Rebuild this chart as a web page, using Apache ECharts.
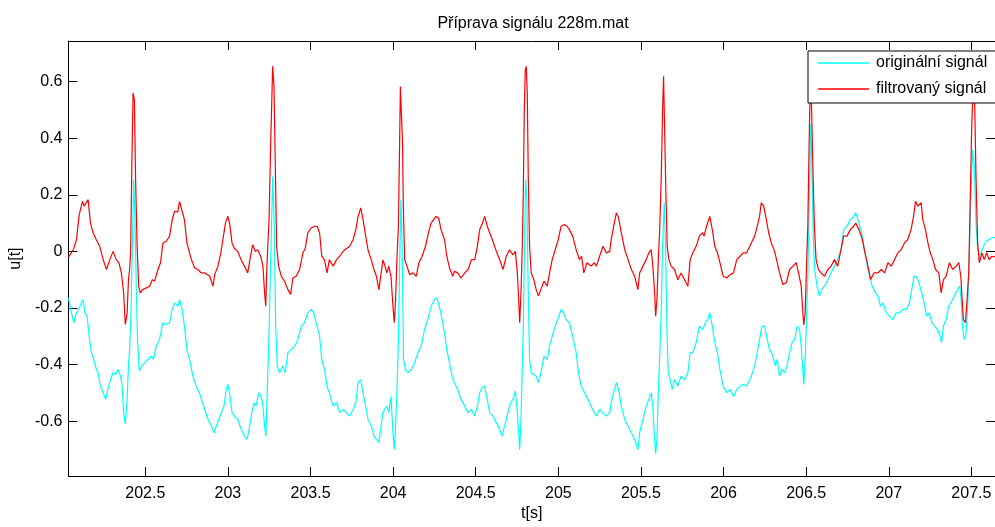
<!DOCTYPE html>
<html>
<head>
<meta charset="utf-8">
<script src="https://cdn.jsdelivr.net/npm/echarts@6/dist/echarts.min.js"></script>
<style>
  html, body { margin: 0; padding: 0; background: #fff; }
  #chart { width: 995px; height: 527px; }
</style>
</head>
<body>
<div id="chart"></div>
<script>
// ECG excerpt, record 228m: time [s] and amplitude u[t]
const chartTitle = 'Příprava signálu 228m.mat';
const seriesNames = ['originální signál', 'filtrovaný signál'];
const xRange = [202.035, 207.643];
const yRange = [-0.7942, 0.7437];
const xTicks = [202.5, 203, 203.5, 204, 204.5, 205, 205.5, 206, 206.5, 207, 207.5];
const yTicks = [-0.6, -0.4, -0.2, 0, 0.2, 0.4, 0.6];

// raw (unfiltered) signal, [t, u]
const original = [
  [202.035,-0.165],[202.039,-0.17],[202.053,-0.217],[202.067,-0.252],[202.083,-0.217],[202.1,-0.2],[202.114,-0.182],[202.124,-0.17],
  [202.134,-0.217],[202.148,-0.229],[202.16,-0.3],[202.174,-0.358],[202.188,-0.382],[202.204,-0.417],[202.214,-0.429],[202.228,-0.476],
  [202.245,-0.5],[202.26,-0.523],[202.274,-0.488],[202.289,-0.453],[202.305,-0.429],[202.32,-0.435],[202.335,-0.417],[202.35,-0.44],
  [202.36,-0.476],[202.369,-0.57],[202.379,-0.61],[202.39,-0.523],[202.398,-0.405],[202.405,-0.347],[202.414,-0.205],[202.422,0.03],
  [202.43,0.254],[202.438,0.112],[202.446,-0.147],[202.454,-0.323],[202.464,-0.423],[202.476,-0.405],[202.496,-0.394],[202.516,-0.382],
  [202.536,-0.37],[202.55,-0.382],[202.566,-0.335],[202.586,-0.311],[202.607,-0.252],[202.627,-0.258],[202.647,-0.252],[202.663,-0.205],
  [202.677,-0.182],[202.697,-0.194],[202.707,-0.17],[202.723,-0.205],[202.737,-0.264],[202.752,-0.347],[202.768,-0.382],[202.788,-0.441],
  [202.808,-0.476],[202.828,-0.5],[202.84,-0.523],[202.86,-0.559],[202.88,-0.594],[202.9,-0.617],[202.917,-0.641],[202.93,-0.617],
  [202.945,-0.594],[202.96,-0.57],[202.976,-0.547],[202.99,-0.488],[203,-0.47],[203.01,-0.5],[203.025,-0.57],[203.04,-0.582],
  [203.06,-0.594],[203.08,-0.629],[203.1,-0.653],[203.117,-0.664],[203.132,-0.617],[203.145,-0.57],[203.157,-0.535],[203.171,-0.547],
  [203.186,-0.5],[203.2,-0.512],[203.21,-0.535],[203.222,-0.617],[203.23,-0.653],[203.238,-0.5],[203.249,-0.288],[203.259,-0.029],
  [203.271,0.265],[203.281,0.089],[203.289,-0.264],[203.299,-0.405],[203.313,-0.429],[203.333,-0.405],[203.347,-0.429],[203.363,-0.358],
  [203.383,-0.347],[203.404,-0.335],[203.424,-0.311],[203.444,-0.264],[203.464,-0.252],[203.484,-0.217],[203.504,-0.205],[203.52,-0.217],
  [203.534,-0.252],[203.555,-0.3],[203.568,-0.382],[203.585,-0.417],[203.6,-0.476],[203.614,-0.5],[203.637,-0.547],[203.657,-0.535],
  [203.677,-0.57],[203.697,-0.559],[203.718,-0.57],[203.737,-0.582],[203.758,-0.559],[203.774,-0.535],[203.788,-0.464],[203.804,-0.453],
  [203.818,-0.5],[203.834,-0.547],[203.848,-0.594],[203.868,-0.617],[203.884,-0.653],[203.899,-0.664],[203.914,-0.676],[203.922,-0.641],
  [203.938,-0.57],[203.948,-0.559],[203.962,-0.547],[203.974,-0.57],[203.987,-0.512],[203.999,-0.641],[204.007,-0.7],[204.015,-0.617],
  [204.023,-0.5],[204.032,-0.311],[204.04,-0.029],[204.047,0.183],[204.056,-0.029],[204.063,-0.382],[204.074,-0.417],[204.09,-0.429],
  [204.11,-0.417],[204.13,-0.394],[204.15,-0.358],[204.17,-0.335],[204.19,-0.276],[204.21,-0.241],[204.23,-0.194],[204.25,-0.17],
  [204.264,-0.164],[204.28,-0.194],[204.297,-0.241],[204.311,-0.288],[204.325,-0.347],[204.341,-0.394],[204.357,-0.441],[204.371,-0.464],
  [204.391,-0.488],[204.411,-0.523],[204.434,-0.547],[204.454,-0.57],[204.474,-0.559],[204.494,-0.582],[204.51,-0.547],[204.524,-0.5],
  [204.538,-0.482],[204.554,-0.476],[204.57,-0.523],[204.584,-0.57],[204.604,-0.582],[204.625,-0.606],[204.645,-0.629],[204.659,-0.653],
  [204.675,-0.617],[204.695,-0.57],[204.711,-0.535],[204.725,-0.523],[204.74,-0.494],[204.752,-0.57],[204.76,-0.641],[204.766,-0.7],
  [204.774,-0.594],[204.782,-0.405],[204.788,-0.264],[204.794,-0.029],[204.802,0.254],[204.81,0.183],[204.818,-0.147],[204.826,-0.382],
  [204.836,-0.429],[204.852,-0.435],[204.866,-0.441],[204.88,-0.464],[204.894,-0.429],[204.913,-0.37],[204.933,-0.382],[204.947,-0.335],
  [204.963,-0.3],[204.981,-0.264],[204.997,-0.241],[205.017,-0.205],[205.031,-0.217],[205.047,-0.241],[205.067,-0.252],[205.087,-0.3],
  [205.108,-0.358],[205.122,-0.429],[205.138,-0.476],[205.159,-0.5],[205.179,-0.523],[205.198,-0.547],[205.218,-0.57],[205.23,-0.582],
  [205.25,-0.559],[205.27,-0.57],[205.29,-0.582],[205.311,-0.57],[205.32,-0.535],[205.335,-0.5],[205.351,-0.464],[205.365,-0.488],
  [205.381,-0.547],[205.402,-0.594],[205.422,-0.617],[205.442,-0.641],[205.462,-0.664],[205.482,-0.7],[205.492,-0.641],[205.512,-0.594],
  [205.532,-0.547],[205.548,-0.523],[205.562,-0.5],[205.572,-0.547],[205.58,-0.641],[205.589,-0.715],[205.597,-0.664],[205.605,-0.5],
  [205.613,-0.382],[205.623,-0.205],[205.631,0.018],[205.641,0.172],[205.649,0.018],[205.657,-0.264],[205.665,-0.429],[205.677,-0.453],
  [205.689,-0.488],[205.703,-0.453],[205.723,-0.476],[205.743,-0.441],[205.764,-0.453],[205.784,-0.429],[205.798,-0.358],[205.814,-0.358],
  [205.834,-0.323],[205.854,-0.264],[205.874,-0.276],[205.89,-0.252],[205.904,-0.241],[205.917,-0.217],[205.932,-0.264],[205.947,-0.323],
  [205.963,-0.358],[205.978,-0.417],[205.998,-0.476],[206.02,-0.5],[206.04,-0.488],[206.06,-0.512],[206.08,-0.488],[206.1,-0.476],
  [206.12,-0.47],[206.14,-0.476],[206.168,-0.441],[206.188,-0.405],[206.204,-0.358],[206.218,-0.311],[206.232,-0.264],[206.248,-0.264],
  [206.264,-0.311],[206.279,-0.347],[206.299,-0.37],[206.313,-0.405],[206.325,-0.382],[206.339,-0.441],[206.353,-0.417],[206.369,-0.429],
  [206.384,-0.405],[206.4,-0.358],[206.414,-0.323],[206.43,-0.311],[206.446,-0.264],[206.46,-0.276],[206.47,-0.335],[206.478,-0.405],
  [206.486,-0.47],[206.494,-0.382],[206.502,-0.241],[206.51,-0.088],[206.52,0.207],[206.528,0.45],[206.536,0.265],[206.544,0.03],
  [206.554,-0.076],[206.566,-0.123],[206.58,-0.158],[206.594,-0.135],[206.611,-0.123],[206.631,-0.1],[206.651,-0.076],[206.671,-0.052],
  [206.691,-0.029],[206.711,0.006],[206.727,0.077],[206.747,0.089],[206.767,0.112],[206.787,0.124],[206.8,0.136],[206.82,0.1],
  [206.84,0.054],[206.856,-0.005],[206.87,-0.052],[206.885,-0.088],[206.9,-0.123],[206.92,-0.147],[206.935,-0.158],[206.95,-0.194],
  [206.965,-0.182],[206.985,-0.217],[207.005,-0.229],[207.025,-0.241],[207.045,-0.217],[207.065,-0.217],[207.085,-0.205],[207.105,-0.205],
  [207.125,-0.182],[207.139,-0.135],[207.153,-0.088],[207.167,-0.088],[207.183,-0.111],[207.2,-0.147],[207.214,-0.182],[207.229,-0.229],
  [207.245,-0.217],[207.261,-0.252],[207.277,-0.264],[207.295,-0.276],[207.311,-0.3],[207.319,-0.323],[207.331,-0.264],[207.347,-0.241],
  [207.362,-0.194],[207.376,-0.182],[207.396,-0.158],[207.416,-0.135],[207.43,-0.123],[207.438,-0.17],[207.446,-0.264],[207.456,-0.311],
  [207.466,-0.3],[207.477,-0.205],[207.487,-0.029],[207.497,0.207],[207.508,0.36],[207.518,0.3],[207.528,0.1],[207.538,0.006],
  [207.548,-0.017],[207.564,0.006],[207.578,0.024],[207.592,0.036],[207.608,0.042],[207.625,0.048],[207.645,0.05]
];

// baseline-corrected signal, [t, u]
const filtered = [
  [202.035,-0.02],[202.039,-0.017],[202.064,0.006],[202.083,0.04],[202.1,0.13],[202.12,0.177],[202.13,0.16],[202.154,0.183],
  [202.168,0.1],[202.184,0.066],[202.204,0.04],[202.224,0.018],[202.245,-0.029],[202.265,-0.064],[202.285,-0.03],[202.305,0],
  [202.325,-0.03],[202.34,-0.04],[202.355,-0.075],[202.369,-0.147],[202.379,-0.258],[202.39,-0.22],[202.398,-0.1],[202.405,-0.064],
  [202.411,-0.005],[202.419,0.324],[202.426,0.56],[202.434,0.536],[202.441,0.265],[202.45,0.03],[202.46,-0.123],[202.47,-0.147],
  [202.484,-0.135],[202.506,-0.129],[202.526,-0.123],[202.542,-0.1],[202.556,-0.105],[202.577,-0.064],[202.592,-0.04],[202.607,0.03],
  [202.627,0.036],[202.647,0.054],[202.663,0.112],[202.677,0.142],[202.697,0.14],[202.707,0.177],[202.717,0.155],[202.737,0.112],
  [202.752,0.03],[202.768,-0.005],[202.78,-0.03],[202.798,-0.058],[202.818,-0.064],[202.838,-0.076],[202.86,-0.076],[202.89,-0.088],
  [202.91,-0.123],[202.92,-0.082],[202.94,-0.052],[202.957,-0.005],[202.97,0.042],[202.985,0.1],[203,0.124],[203.01,0.1],
  [203.025,0.03],[203.04,0.01],[203.06,0],[203.08,-0.03],[203.1,-0.052],[203.12,-0.076],[203.137,-0.017],[203.15,0.024],
  [203.165,0],[203.18,0.006],[203.198,-0.017],[203.212,-0.052],[203.222,-0.146],[203.229,-0.194],[203.236,-0.052],[203.249,0.112],
  [203.259,0.383],[203.271,0.654],[203.279,0.583],[203.287,0.3],[203.295,0.018],[203.307,-0.052],[203.323,-0.088],[203.343,-0.105],
  [203.363,-0.135],[203.38,-0.152],[203.393,-0.094],[203.413,-0.088],[203.434,-0.064],[203.454,-0.005],[203.468,0.01],[203.484,0.066],
  [203.504,0.083],[203.524,0.089],[203.54,0.089],[203.555,0.066],[203.568,-0.017],[203.585,-0.03],[203.6,-0.076],[203.614,-0.03],
  [203.637,-0.052],[203.657,-0.03],[203.677,-0.017],[203.697,0],[203.718,0.01],[203.737,0.018],[203.758,0.042],[203.774,0.077],
  [203.788,0.124],[203.804,0.154],[203.818,0.112],[203.834,0.054],[203.848,0.006],[203.868,-0.03],[203.884,-0.064],[203.899,-0.088],
  [203.914,-0.135],[203.922,-0.1],[203.938,-0.03],[203.948,-0.046],[203.962,-0.076],[203.974,-0.052],[203.987,-0.088],[203.999,-0.194],
  [204.007,-0.252],[204.015,-0.17],[204.023,-0.029],[204.032,0.089],[204.038,0.324],[204.044,0.583],[204.051,0.59],[204.057,0.383],
  [204.062,0.148],[204.07,-0.029],[204.084,-0.052],[204.1,-0.082],[204.12,-0.076],[204.14,-0.088],[204.156,-0.04],[204.176,-0.017],
  [204.196,0.018],[204.214,0.066],[204.23,0.1],[204.245,0.112],[204.26,0.124],[204.276,0.118],[204.29,0.077],[204.311,0.042],
  [204.325,-0.017],[204.341,-0.058],[204.361,-0.088],[204.371,-0.07],[204.391,-0.076],[204.411,-0.094],[204.434,-0.076],[204.454,-0.064],
  [204.474,-0.029],[204.494,-0.029],[204.51,0.018],[204.524,0.077],[204.538,0.095],[204.554,0.124],[204.57,0.089],[204.584,0.066],
  [204.604,0.036],[204.625,0],[204.645,-0.029],[204.665,-0.064],[204.685,-0.017],[204.705,0.006],[204.725,-0.012],[204.74,0],
  [204.752,-0.076],[204.76,-0.17],[204.766,-0.252],[204.774,-0.147],[204.782,0.018],[204.788,0.207],[204.794,0.5],[204.8,0.643],
  [204.806,0.654],[204.812,0.56],[204.818,0.265],[204.826,0.018],[204.836,-0.076],[204.852,-0.1],[204.866,-0.135],[204.88,-0.158],
  [204.894,-0.135],[204.913,-0.105],[204.933,-0.123],[204.947,-0.076],[204.963,-0.029],[204.981,0.006],[204.997,0.036],[205.017,0.089],
  [205.037,0.095],[205.053,0.089],[205.067,0.077],[205.087,0.054],[205.108,0.006],[205.128,-0.029],[205.141,-0.017],[205.154,-0.076],
  [205.174,-0.04],[205.198,-0.052],[205.218,-0.04],[205.23,-0.052],[205.25,-0.017],[205.27,0.018],[205.29,-0.005],[205.311,0],
  [205.32,0.042],[205.335,0.089],[205.351,0.136],[205.365,0.118],[205.381,0.066],[205.402,0.006],[205.422,-0.029],[205.442,-0.064],
  [205.462,-0.088],[205.482,-0.135],[205.492,-0.076],[205.512,-0.052],[205.532,-0.029],[205.548,-0.005],[205.562,0.006],[205.572,-0.052],
  [205.583,-0.147],[205.589,-0.229],[205.597,-0.17],[205.605,-0.029],[205.613,0.066],[205.623,0.265],[205.631,0.5],[205.637,0.619],
  [205.643,0.442],[205.651,0.207],[205.659,0.018],[205.669,-0.029],[205.683,-0.052],[205.703,-0.064],[205.723,-0.1],[205.743,-0.076],
  [205.764,-0.1],[205.784,-0.123],[205.798,-0.029],[205.814,-0.005],[205.834,0.018],[205.854,0.054],[205.874,0.066],[205.882,0.054],
  [205.897,0.089],[205.917,0.124],[205.932,0.077],[205.947,0.018],[205.963,-0.005],[205.978,-0.04],[205.998,-0.088],[206.02,-0.094],
  [206.04,-0.082],[206.06,-0.076],[206.08,-0.029],[206.1,-0.017],[206.12,-0.005],[206.14,-0.005],[206.168,0.03],[206.188,0.054],
  [206.204,0.089],[206.218,0.124],[206.228,0.172],[206.243,0.16],[206.259,0.112],[206.273,0.066],[206.289,0.03],[206.309,0],
  [206.325,-0.04],[206.339,-0.076],[206.359,-0.117],[206.38,-0.111],[206.4,-0.064],[206.42,-0.052],[206.44,-0.04],[206.454,-0.076],
  [206.47,-0.123],[206.48,-0.217],[206.486,-0.26],[206.494,-0.217],[206.502,-0.052],[206.51,0.089],[206.518,0.383],[206.526,0.64],
  [206.533,0.5],[206.542,0.265],[206.55,0.089],[206.56,-0.029],[206.574,-0.064],[206.59,-0.076],[206.611,-0.088],[206.631,-0.064],
  [206.651,-0.052],[206.671,-0.029],[206.691,-0.052],[206.711,0.006],[206.727,0.054],[206.747,0.054],[206.767,0.077],[206.787,0.089],
  [206.8,0.1],[206.82,0.077],[206.84,0.042],[206.856,-0.005],[206.87,-0.04],[206.89,-0.1],[206.91,-0.076],[206.935,-0.076],
  [206.955,-0.064],[206.975,-0.076],[206.995,-0.04],[207.015,-0.052],[207.035,-0.029],[207.055,-0.005],[207.075,0.006],[207.095,0.03],
  [207.115,0.042],[207.135,0.077],[207.15,0.124],[207.162,0.177],[207.176,0.16],[207.196,0.172],[207.206,0.112],[207.222,0.077],
  [207.237,0.03],[207.251,-0.005],[207.267,-0.029],[207.283,-0.064],[207.303,-0.076],[207.317,-0.147],[207.331,-0.1],[207.347,-0.088],
  [207.367,-0.04],[207.387,-0.064],[207.408,-0.052],[207.424,-0.04],[207.436,-0.088],[207.444,-0.17],[207.452,-0.241],[207.464,-0.252],
  [207.474,-0.17],[207.484,-0.076],[207.494,0.207],[207.502,0.442],[207.512,0.6],[207.52,0.525],[207.528,0.265],[207.538,0.03],
  [207.548,-0.04],[207.564,-0.005],[207.578,-0.029],[207.592,-0.005],[207.608,-0.029],[207.625,-0.017],[207.645,-0.02]
];

const FONT = '"Liberation Sans", Arial, Helvetica, sans-serif';
const TEXT = { fontFamily: FONT, fontSize: 16, color: '#000' };

const chart = echarts.init(document.getElementById('chart'), null, { renderer: 'canvas' });

function boxAxis(extra) {
  return Object.assign({
    type: 'value',
    axisLine: { show: true, onZero: false, lineStyle: { color: '#000', width: 1 } },
    splitLine: { show: false },
    axisPointer: { show: false }
  }, extra);
}

function inwardTicks(values) {
  return { show: true, inside: true, length: 9, customValues: values, lineStyle: { color: '#000', width: 1 } };
}

chart.setOption({
  animation: false,
  backgroundColor: '#fff',
  title: {
    text: chartTitle,
    left: 533,
    top: 16,
    padding: 0,
    textAlign: 'center',
    textStyle: Object.assign({ fontWeight: 'normal' }, TEXT)
  },
  legend: {
    data: seriesNames.map(name => ({ name: name, icon: 'rect' })),
    orient: 'vertical',
    left: 808,
    top: 51,
    padding: [4, 12, 6, 10],
    itemGap: 10,
    itemWidth: 51,
    itemHeight: 1.5,
    backgroundColor: '#fff',
    borderColor: '#000',
    borderWidth: 1,
    borderRadius: 0,
    selectedMode: false,
    textStyle: Object.assign({ lineHeight: 16, padding: [0, 0, 0, 2] }, TEXT)
  },
  grid: { left: 68, top: 41, width: 929, height: 436, containLabel: false },
  xAxis: [
    boxAxis({
      position: 'bottom', min: xRange[0], max: xRange[1],
      name: 't[s]', nameLocation: 'middle', nameGap: 29, nameTextStyle: TEXT,
      axisTick: inwardTicks(xTicks),
      axisLabel: Object.assign({ show: true, margin: 9, customValues: xTicks, formatter: v => String(v) }, TEXT)
    }),
    boxAxis({
      position: 'top', min: xRange[0], max: xRange[1],
      axisTick: inwardTicks(xTicks),
      axisLabel: { show: false }
    })
  ],
  yAxis: [
    boxAxis({
      position: 'left', min: yRange[0], max: yRange[1],
      name: 'u[t]', nameLocation: 'middle', nameGap: 39, nameRotate: 90, nameTextStyle: TEXT,
      axisTick: inwardTicks(yTicks),
      axisLabel: Object.assign({ show: true, margin: 6, customValues: yTicks, formatter: v => String(v) }, TEXT)
    }),
    boxAxis({
      position: 'right', min: yRange[0], max: yRange[1],
      axisTick: inwardTicks(yTicks),
      axisLabel: { show: false }
    })
  ],
  series: [
    {
      name: seriesNames[0], type: 'line', data: original,
      xAxisIndex: 0, yAxisIndex: 0,
      symbol: 'none', showSymbol: false, smooth: false, clip: true, silent: true,
      color: '#00ffff', lineStyle: { color: '#00ffff', width: 1.2 }, z: 2
    },
    {
      name: seriesNames[1], type: 'line', data: filtered,
      xAxisIndex: 0, yAxisIndex: 0,
      symbol: 'none', showSymbol: false, smooth: false, clip: true, silent: true,
      color: '#ff0000', lineStyle: { color: '#ff0000', width: 1.2 }, z: 3
    }
  ]
});
</script>
</body>
</html>
